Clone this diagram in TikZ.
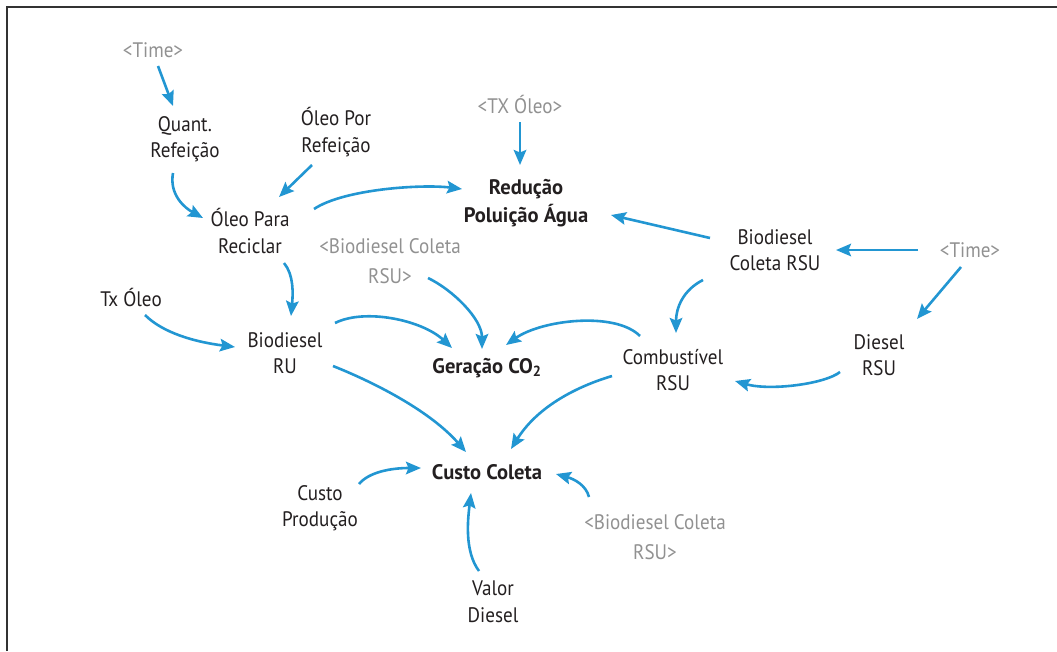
\documentclass[tikz,border=0pt]{standalone}
\usepackage{fontspec}
\setmainfont{PT Sans}[FakeStretch=0.91]
\newfontfamily\boldfam{PT Sans}[FakeStretch=0.98]
\usetikzlibrary{arrows.meta}
\definecolor{arrblue}{RGB}{34,150,210}
\definecolor{txtgray}{RGB}{145,145,145}
\definecolor{txtblack}{RGB}{35,31,32}
\definecolor{framegray}{RGB}{50,50,50}
\begin{document}
\begin{tikzpicture}[x=1pt,y=-1pt,
  lbl/.style={align=center, inner sep=0pt, text=txtblack, font=\fontsize{21}{26.5}\selectfont},
  boldlbl/.style={lbl, font=\boldfam\fontsize{21}{27.5}\selectfont\bfseries},
  ghost/.style={lbl, text=txtgray, font=\fontsize{21}{30.5}\selectfont},
  arr/.style={draw=arrblue, line width=2.6pt, -{Stealth[length=15pt,width=12.5pt,inset=2.5pt]}}]
\useasboundingbox (0,0) rectangle (1057,651);
\draw[framegray, line width=2pt] (7,651) -- (7,7) -- (1057,7);

\node[ghost] (timeA) at (153,50) {<Time>};
\node[lbl] (quant) at (185,139) {Quant.\\Refeição};
\node[lbl] (oleopor) at (336,132) {Óleo Por\\Refeição};
\node[ghost] (txoleoG) at (520,104) {<TX Óleo>};
\node[boldlbl] (reducao) at (526,203) {Redução\\Poluição Água};
\node[lbl] (oleopara) at (250,231) {Óleo Para\\Reciclar};
\node[ghost] (bcrsuA) at (390,261) {<Biodiesel Coleta\\RSU>};
\node[lbl] (bcrsu) at (775,250) {Biodiesel\\Coleta RSU};
\node[ghost] (timeB) at (970,250) {<Time>};
\node[lbl] (txoleo) at (131,297) {Tx Óleo};
\node[lbl] (biodru) at (285,353) {Biodiesel\\RU};
\node[boldlbl] (geracao) at (487,368) {Geração CO\textsubscript{2}};
\node[lbl] (combust) at (673,370) {Combustível\\RSU};
\node[lbl] (diesel) at (879,355) {Diesel\\RSU};
\node[boldlbl] (custo) at (487,472) {Custo Coleta};
\node[lbl] (custop) at (320,508) {Custo\\Produção};
\node[ghost] (bcrsuB) at (655,537) {<Biodiesel Coleta\\RSU>};
\node[lbl] (valor) at (493,602) {Valor\\Diesel};

\draw[arr] ([shift={(5,16)}]timeA.center) -- ([shift={(-12,-33)}]quant.center);
\draw[arr] ([shift={(-12,34)}]quant.center) .. controls +(-4,22) and +(-18,-10) .. ([shift={(-47,-13)}]oleopara.center);
\draw[arr] ([shift={(-24,33)}]oleopor.center) -- ([shift={(29,-34)}]oleopara.center);
\draw[arr] ([shift={(64,-22)}]oleopara.center) .. controls +(30,-20) and +(-40,-5) .. ([shift={(-64,-14)}]reducao.center);
\draw[arr] ([shift={(0,18)}]txoleoG.center) -- ([shift={(-6,-38)}]reducao.center);
\draw[arr] ([shift={(-65,-12)}]bcrsu.center) -- ([shift={(85,12)}]reducao.center);
\draw[arr] ([shift={(-52,0)}]timeB.center) -- ([shift={(61,0)}]bcrsu.center);
\draw[arr] ([shift={(-9,17)}]timeB.center) -- ([shift={(38,-36)}]diesel.center);
\draw[arr] ([shift={(34,32)}]oleopara.center) .. controls +(10,12) and +(2,-22) .. ([shift={(6,-37)}]biodru.center);
\draw[arr] ([shift={(14,18)}]txoleo.center) .. controls +(18,18) and +(-40,-5) .. ([shift={(-50,-6)}]biodru.center);
\draw[arr] ([shift={(38,17)}]bcrsuA.center) .. controls +(25,12) and +(0,-30) .. ([shift={(-5,-19)}]geracao.center);
\draw[arr] ([shift={(50,-30)}]biodru.center) .. controls +(30,-15) and +(-30,-28) .. ([shift={(-35,-20)}]geracao.center);
\draw[arr] ([shift={(-33,-34)}]combust.center) .. controls +(-25,-25) and +(35,-25) .. ([shift={(19,-23)}]geracao.center);
\draw[arr] ([shift={(-72,30)}]bcrsu.center) .. controls +(-20,10) and +(0,-25) .. ([shift={(3,-37)}]combust.center);
\draw[arr] ([shift={(-39,17)}]diesel.center) .. controls +(-15,12) and +(35,10) .. ([shift={(62,11)}]combust.center);
\draw[arr] ([shift={(48,13)}]biodru.center) .. controls +(45,18) and +(-35,-40) .. ([shift={(-21,-20)}]custo.center);
\draw[arr] ([shift={(-61,6)}]combust.center) .. controls +(-40,12) and +(25,-40) .. ([shift={(24,-23)}]custo.center);
\draw[arr] ([shift={(39,-24)}]custop.center) .. controls +(10,-12) and +(-30,0) .. ([shift={(-66,-4)}]custo.center);
\draw[arr] ([shift={(-66,-40)}]bcrsuB.center) .. controls +(-3,-12) and +(18,5) .. ([shift={(69,2)}]custo.center);
\draw[arr] ([shift={(-14,-31)}]valor.center) .. controls +(-15,-20) and +(-3,25) .. ([shift={(-16,21)}]custo.center);
\end{tikzpicture}
\end{document}
